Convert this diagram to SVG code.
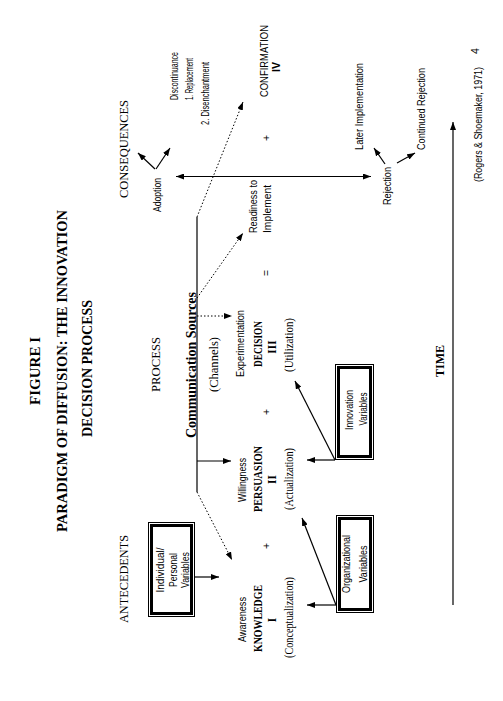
<svg xmlns="http://www.w3.org/2000/svg" width="503" height="701" viewBox="0 0 503 701">
<style>
text{fill:#000}
.t{font-family:"Liberation Serif",serif;font-weight:bold}
.h{font-family:"Liberation Serif",serif;font-size:12px}
.s{font-family:"Liberation Sans",sans-serif;font-size:10.5px}
.b{font-family:"Liberation Serif",serif;font-weight:bold;font-size:11.5px}
.ln{stroke:#000;stroke-width:1.2;fill:none}
.dt{stroke:#000;stroke-width:1;fill:none;stroke-dasharray:1.5 2}
.bo{stroke:#000;stroke-width:1;fill:#fff}
.bi{stroke:#000;stroke-width:3;fill:none}
</style>
<defs>
<marker id="ah" viewBox="0 0 8 6" refX="8" refY="3" markerWidth="8" markerHeight="6" markerUnits="userSpaceOnUse" orient="auto-start-reverse"><path d="M0,0 L8,3 L0,6 z" fill="#000"/></marker>
</defs>
<rect width="503" height="701" fill="#fff"/>

<g id="title">
<text class="t" font-size="15" text-anchor="middle" transform="translate(40,371) rotate(-90)" textLength="68" lengthAdjust="spacingAndGlyphs">FIGURE I</text>
<text class="t" font-size="14.5" text-anchor="middle" transform="translate(67,371) rotate(-90)" textLength="322" lengthAdjust="spacingAndGlyphs">PARADIGM OF DIFFUSION:  THE INNOVATION</text>
<text class="t" font-size="14.5" text-anchor="middle" transform="translate(92,368.5) rotate(-90)" textLength="137" lengthAdjust="spacingAndGlyphs">DECISION PROCESS</text>
</g>

<g id="headings">
<text class="h" text-anchor="middle" transform="translate(128,149) rotate(-90)" textLength="98" lengthAdjust="spacingAndGlyphs">CONSEQUENCES</text>
<text class="h" text-anchor="middle" transform="translate(160,364.5) rotate(-90)" textLength="55" lengthAdjust="spacingAndGlyphs">PROCESS</text>
<text class="h" text-anchor="middle" transform="translate(128,579) rotate(-90)" textLength="88" lengthAdjust="spacingAndGlyphs">ANTECEDENTS</text>
</g>

<g id="individual-box">
<rect class="bo" x="148.5" y="522.5" width="46" height="94"/>
<rect class="bi" x="151.5" y="525.5" width="40" height="88"/>
<text class="s" text-anchor="middle" transform="translate(164,570) rotate(-90)" textLength="45" lengthAdjust="spacingAndGlyphs">Individual/</text>
<text class="s" text-anchor="middle" transform="translate(177,570) rotate(-90)" textLength="34" lengthAdjust="spacingAndGlyphs">Personal</text>
<text class="s" text-anchor="middle" transform="translate(189,570) rotate(-90)" textLength="36" lengthAdjust="spacingAndGlyphs">Variables</text>
</g>

<g id="organizational-box">
<rect class="bo" x="336.5" y="515.5" width="37" height="97"/>
<rect class="bi" x="339.5" y="518.5" width="31" height="91"/>
<text class="s" text-anchor="middle" transform="translate(350,564) rotate(-90)" textLength="58" lengthAdjust="spacingAndGlyphs">Organizational</text>
<text class="s" text-anchor="middle" transform="translate(367,564) rotate(-90)" textLength="37" lengthAdjust="spacingAndGlyphs">Variables</text>
</g>

<g id="innovation-box">
<rect class="bo" x="335.5" y="364.5" width="38" height="95"/>
<rect class="bi" x="338.5" y="367.5" width="32" height="89"/>
<text class="s" text-anchor="middle" transform="translate(353,410) rotate(-90)" textLength="40" lengthAdjust="spacingAndGlyphs">Innovation</text>
<text class="s" text-anchor="middle" transform="translate(367,409) rotate(-90)" textLength="33" lengthAdjust="spacingAndGlyphs">Variables</text>
</g>

<g id="communication">
<text class="t" font-size="14" text-anchor="middle" transform="translate(196,365) rotate(-90)" textLength="146" lengthAdjust="spacingAndGlyphs">Communication Sources</text>
<text class="h" text-anchor="middle" transform="translate(218,364.5) rotate(-90)" textLength="55" lengthAdjust="spacingAndGlyphs">(Channels)</text>
</g>

<g id="stage-knowledge">
<text class="s" text-anchor="middle" transform="translate(246,619.5) rotate(-90)" textLength="45" lengthAdjust="spacingAndGlyphs">Awareness</text>
<text class="b" text-anchor="middle" transform="translate(262,618.5) rotate(-90)" textLength="67" lengthAdjust="spacingAndGlyphs">KNOWLEDGE</text>
<text class="b" text-anchor="middle" transform="translate(276,620) rotate(-90)">I</text>
<text class="h" font-size="11.5" text-anchor="middle" transform="translate(293,617.5) rotate(-90)" textLength="81" lengthAdjust="spacingAndGlyphs">(Conceptualization)</text>
</g>

<g id="stage-persuasion">
<text class="s" text-anchor="middle" transform="translate(246,480) rotate(-90)" textLength="44" lengthAdjust="spacingAndGlyphs">Willingness</text>
<text class="b" text-anchor="middle" transform="translate(262,479) rotate(-90)" textLength="66" lengthAdjust="spacingAndGlyphs">PERSUASION</text>
<text class="b" text-anchor="middle" transform="translate(276,479.5) rotate(-90)">II</text>
<text class="h" font-size="11.5" text-anchor="middle" transform="translate(293,479) rotate(-90)" textLength="62" lengthAdjust="spacingAndGlyphs">(Actualization)</text>
</g>

<g id="stage-decision">
<text class="s" text-anchor="middle" transform="translate(244,343.5) rotate(-90)" textLength="67" lengthAdjust="spacingAndGlyphs">Experimentation</text>
<text class="b" text-anchor="middle" transform="translate(262,344) rotate(-90)" textLength="46" lengthAdjust="spacingAndGlyphs">DECISION</text>
<text class="b" text-anchor="middle" transform="translate(276,347) rotate(-90)">III</text>
<text class="h" font-size="11.5" text-anchor="middle" transform="translate(293,345) rotate(-90)" textLength="54" lengthAdjust="spacingAndGlyphs">(Utilization)</text>
</g>

<g id="stage-implement">
<text class="s" text-anchor="middle" transform="translate(257,206.5) rotate(-90)" textLength="53" lengthAdjust="spacingAndGlyphs">Readiness to</text>
<text class="s" text-anchor="middle" transform="translate(271,209) rotate(-90)" textLength="48" lengthAdjust="spacingAndGlyphs">Implement</text>
</g>

<g id="stage-confirmation">
<text class="s" text-anchor="middle" transform="translate(268,61) rotate(-90)" textLength="72" lengthAdjust="spacingAndGlyphs">CONFIRMATION</text>
<text class="s" font-weight="bold" text-anchor="middle" transform="translate(280,67) rotate(-90)">IV</text>
</g>

<g id="operators">
<text class="s" text-anchor="middle" transform="translate(270,546) rotate(-90)">+</text>
<text class="s" text-anchor="middle" transform="translate(270,412) rotate(-90)">+</text>
<text class="s" text-anchor="middle" transform="translate(270,273) rotate(-90)">=</text>
<text class="s" text-anchor="middle" transform="translate(270,138) rotate(-90)">+</text>
</g>

<g id="adoption">
<text class="s" text-anchor="middle" transform="translate(161,195) rotate(-90)" textLength="34" lengthAdjust="spacingAndGlyphs">Adoption</text>
</g>

<g id="discontinuance">
<text class="s" text-anchor="middle" transform="translate(178,76) rotate(-90)" textLength="48" lengthAdjust="spacingAndGlyphs">Discontinuance</text>
<text class="s" text-anchor="middle" transform="translate(193,79) rotate(-90)" textLength="42" lengthAdjust="spacingAndGlyphs">1. Replacement</text>
<text class="s" text-anchor="middle" transform="translate(209,93.5) rotate(-90)" textLength="63" lengthAdjust="spacingAndGlyphs">2. Disenchantment</text>
</g>

<g id="rejection">
<text class="s" text-anchor="middle" transform="translate(391,186) rotate(-90)" textLength="38" lengthAdjust="spacingAndGlyphs">Rejection</text>
</g>

<g id="later-implementation">
<text class="s" text-anchor="middle" transform="translate(363,106.5) rotate(-90)" textLength="87" lengthAdjust="spacingAndGlyphs">Later Implementation</text>
</g>

<g id="continued-rejection">
<text class="s" text-anchor="middle" transform="translate(425,109) rotate(-90)" textLength="82" lengthAdjust="spacingAndGlyphs">Continued Rejection</text>
</g>

<g id="time">
<text class="t" font-size="12.5" text-anchor="middle" transform="translate(444,361) rotate(-90)" textLength="32" lengthAdjust="spacingAndGlyphs">TIME</text>
</g>

<g id="source">
<text class="s" font-size="11" text-anchor="middle" transform="translate(482,124.5) rotate(-90)" textLength="115" lengthAdjust="spacingAndGlyphs">(Rogers &amp; Shoemaker, 1971)</text>
<text class="s" font-size="11.5" text-anchor="middle" transform="translate(479,51) rotate(-90)">4</text>
</g>

<g id="connectors">
<line class="ln" x1="176" y1="176.5" x2="371" y2="176.5" marker-start="url(#ah)" marker-end="url(#ah)"/>
<line class="ln" x1="155" y1="169" x2="138" y2="153" marker-end="url(#ah)"/>
<line class="ln" x1="156" y1="169" x2="170" y2="148" marker-end="url(#ah)"/>
<line class="ln" x1="385" y1="164" x2="374" y2="148" marker-end="url(#ah)"/>
<line class="ln" x1="397" y1="163" x2="415" y2="153" marker-end="url(#ah)"/>
<line class="ln" x1="195" y1="577" x2="219" y2="577" marker-end="url(#ah)"/>
<line class="ln" x1="197" y1="217" x2="197" y2="492"/>
<line class="dt" x1="197" y1="217" x2="243" y2="102" marker-end="url(#ah)"/>
<line class="dt" x1="197" y1="298" x2="243" y2="233" marker-end="url(#ah)"/>
<line class="dt" x1="197" y1="316" x2="232" y2="316" marker-end="url(#ah)"/>
<line class="ln" x1="197" y1="461" x2="231" y2="461" marker-end="url(#ah)"/>
<line class="dt" x1="197" y1="492" x2="232" y2="560" marker-end="url(#ah)"/>
<line class="ln" x1="336" y1="605" x2="307" y2="605" marker-end="url(#ah)"/>
<line class="ln" x1="336" y1="605" x2="302" y2="518" marker-end="url(#ah)"/>
<line class="ln" x1="335" y1="460" x2="307" y2="460" marker-end="url(#ah)"/>
<line class="ln" x1="335" y1="460" x2="295" y2="381" marker-end="url(#ah)"/>
<line class="ln" x1="453" y1="605" x2="453" y2="122" marker-end="url(#ah)"/>
</g>
</svg>
